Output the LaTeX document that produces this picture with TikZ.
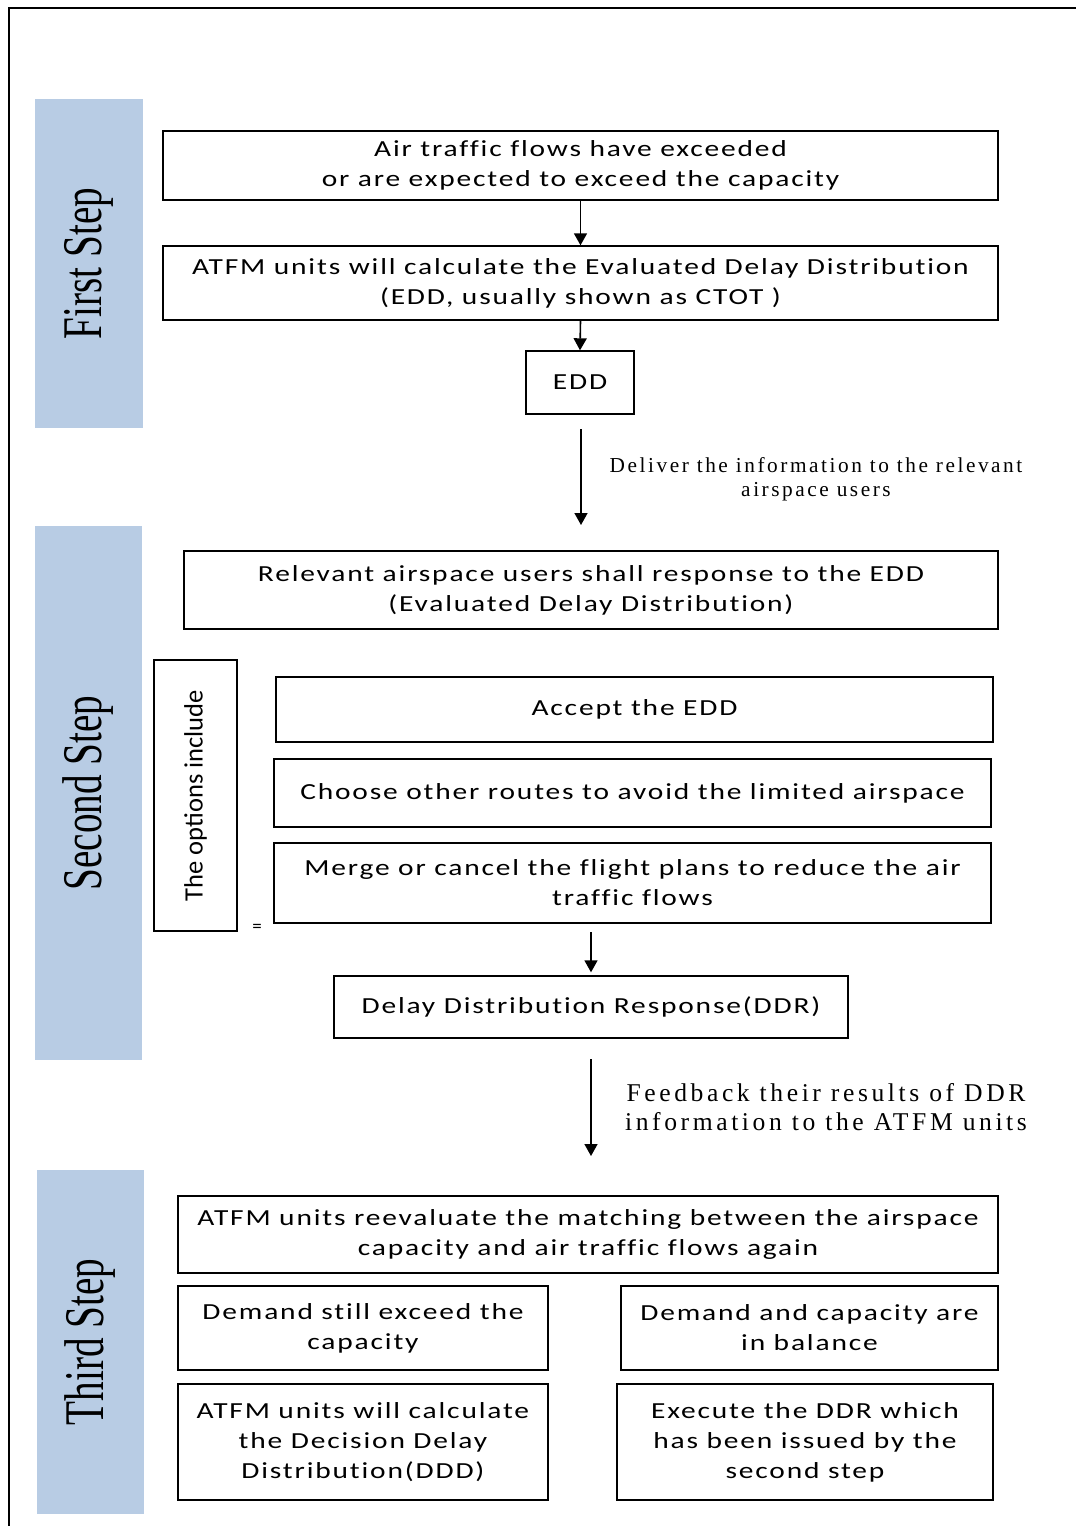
\documentclass[tikz,border=0pt]{standalone}
\usepackage{fontspec}
\setmainfont{Liberation Serif}
\newfontfamily\bodyfont[FakeStretch=1.28,LetterSpace=8,Ligatures=NoCommon]{Carlito}
\newfontfamily\optfont{Carlito}
\newfontfamily\delfont[LetterSpace=12]{Liberation Serif}
\newfontfamily\fbfont[LetterSpace=14]{Liberation Serif}
\usetikzlibrary{arrows.meta}
\definecolor{panelblue}{RGB}{184,204,228}
\tikzset{
  box/.style={draw=black, line width=1.4pt, inner sep=0pt, align=center,
    font=\bodyfont\fontsize{23}{30}\selectfont},
  panel/.style={fill=panelblue, draw=none, inner sep=0pt},
  steplabel/.style={rotate=90, inner sep=0pt, font=\fontsize{56}{56}\selectfont},
  flow/.style={line width=1.6pt, -{Triangle[length=12pt,width=13pt]}},
  note/.style={align=center, inner sep=0pt}
}
\begin{document}
\begin{tikzpicture}[x=1pt,y=-1pt]
\useasboundingbox (0,0) rectangle (1076,1526);
% frame
\draw[line width=1.6pt] (1076,8) -- (9,8) -- (9,1526);

% side panels
\node[panel, minimum width=108pt, minimum height=329pt] (p1) at (89,263.5) {};
\node[panel, minimum width=107pt, minimum height=534pt] (p2) at (88.5,793) {};
\node[panel, minimum width=107pt, minimum height=344pt] (p3) at (90.5,1342) {};
\node[steplabel] (l1) at (p1.center) {\scalebox{0.70}[1]{First Step}};
\node[steplabel] (l2) at (p2.center) {\scalebox{0.70}[1]{Second Step}};
\node[steplabel] (l3) at (p3.center) {\scalebox{0.70}[1]{Third Step}};

% first step
\node[box, minimum width=835pt, minimum height=69pt] (b1) at (580.5,165.5)
  {Air traffic flows have exceeded\\or are expected to exceed the capacity};
\node[box, minimum width=835pt, minimum height=74pt] (b2) at (580.5,283)
  {ATFM units will calculate the Evaluated Delay Distribution\\(EDD, usually shown as CTOT )};
\node[box, minimum width=108pt, minimum height=63pt] (edd) at (580,382.5) {EDD};
\draw[flow] (b1.south) -- (b2.north);
\draw[flow] (b2.south) -- (edd.north);

\coordinate (d1) at (581,429);
\coordinate (d2) at (581,525);
\draw[flow] (d1) -- (d2);
\node[note, font=\delfont\fontsize{21.3}{24}\selectfont] (dl) at (816,479)
  {Deliver the information to the relevant\\airspace users};

% second step
\node[box, minimum width=814pt, minimum height=78pt] (b4) at (591,590)
  {Relevant airspace users shall response to the EDD\\(Evaluated Delay Distribution)};
\node[draw=black, line width=1.4pt, minimum width=83pt, minimum height=271pt, inner sep=0pt] (opt) at (195.5,795.5) {};
\node[rotate=90, inner sep=0pt, font=\optfont\fontsize{26.5}{30}\selectfont] (optl) at (opt.center) {The options include};
\node[box, minimum width=717pt, minimum height=65pt] (acc) at (634.5,709.5) {Accept the EDD};
\node[box, minimum width=717pt, minimum height=68pt] (cho) at (632.5,793) {Choose other routes to avoid the limited airspace};
\node[box, minimum width=717pt, minimum height=80pt] (mer) at (632.5,883)
  {Merge or cancel the flight plans to reduce the air\\traffic flows};
\node[inner sep=0pt, font=\optfont\fontsize{19}{19}\selectfont] (eq) at (257,928) {=};
\node[box, minimum width=514pt, minimum height=62pt] (ddr) at (591,1007) {Delay Distribution Response(DDR)};
\coordinate (m1) at (591,932);
\draw[flow] (m1) -- ([yshift=3pt]ddr.north);

\coordinate (f1) at (591,1059);
\coordinate (f2) at (591,1156);
\draw[flow] (f1) -- (f2);
\node[note, font=\fbfont\fontsize{25.6}{29}\selectfont] (fl) at (826,1107.5)
  {Feedback their results of DDR\\information to the ATFM units};

% third step
\node[box, minimum width=820pt, minimum height=77pt] (re) at (588,1234.5)
  {ATFM units reevaluate the matching between the airspace\\capacity and air traffic flows again};
\node[box, minimum width=370pt, minimum height=84pt] (dse) at (363,1328)
  {Demand still exceed the\\capacity};
\node[box, minimum width=377pt, minimum height=84pt] (dcb) at (809.5,1328)
  {Demand and capacity are\\in balance};
\node[box, minimum width=370pt, minimum height=116pt] (calc) at (363,1442)
  {ATFM units will calculate\\the Decision Delay\\Distribution(DDD)};
\node[box, minimum width=376pt, minimum height=116pt] (exe) at (805,1442)
  {Execute the DDR which\\has been issued by the\\second step};
\end{tikzpicture}
\end{document}
